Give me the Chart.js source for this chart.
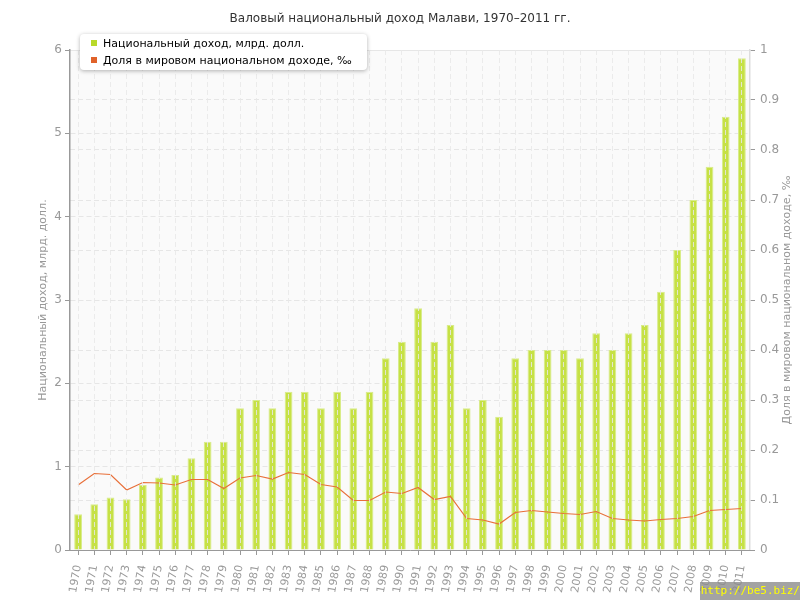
<!DOCTYPE html>
<html>
<head>
<meta charset="utf-8">
<script src="https://cdn.jsdelivr.net/npm/chart.js@4/dist/chart.umd.min.js"></script>
<style>
  body { margin: 0; background: #fff; }
  #wrap { position: relative; width: 800px; height: 600px; }
  #legendBox {
    position: absolute; left: 80px; top: 34px; width: 287px; height: 36px;
    background: #fff; border-radius: 4px; box-shadow: 0 1px 4px rgba(0,0,0,0.3);
    font: 11px "DejaVu Sans", sans-serif; color: #000;
  }
  .legendItem { position: absolute; left: 11px; white-space: nowrap; }
  .legendMark { display: inline-block; width: 6px; height: 6px; margin-right: 6px; vertical-align: 1px; }
  #watermark {
    position: absolute; left: 700px; top: 582px; width: 100px; height: 18px;
    background: rgba(140,140,140,0.8); color: #ffff00;
    font: 11px "DejaVu Sans Mono", monospace; line-height: 18px; text-align: right;
  }
</style>
</head>
<body>
<div id="wrap">
  <canvas id="incomeChart" width="800" height="600"></canvas>
  <div id="legendBox"></div>
  <div id="watermark">http://be5.biz/</div>
</div>
<script>
const years = ["1970","1971","1972","1973","1974","1975","1976","1977","1978","1979",
  "1980","1981","1982","1983","1984","1985","1986","1987","1988","1989",
  "1990","1991","1992","1993","1994","1995","1996","1997","1998","1999",
  "2000","2001","2002","2003","2004","2005","2006","2007","2008","2009",
  "2010","2011"];
// national income, billion USD
const incomeValues = [0.43, 0.55, 0.63, 0.61, 0.78, 0.87, 0.9, 1.1, 1.3, 1.3,
  1.7, 1.8, 1.7, 1.9, 1.9, 1.7, 1.9, 1.7, 1.9, 2.3,
  2.5, 2.9, 2.5, 2.7, 1.7, 1.8, 1.6, 2.3, 2.4, 2.4,
  2.4, 2.3, 2.6, 2.4, 2.6, 2.7, 3.1, 3.6, 4.2, 4.6,
  5.2, 5.9];
// share of world income, per mille
const shareValues = [0.13, 0.153, 0.151, 0.12, 0.135, 0.134, 0.13, 0.141, 0.141, 0.123,
  0.144, 0.149, 0.142, 0.155, 0.151, 0.131, 0.126, 0.099, 0.099, 0.116,
  0.113, 0.125, 0.101, 0.107, 0.063, 0.06, 0.052, 0.075, 0.079, 0.076,
  0.073, 0.071, 0.077, 0.063, 0.06, 0.058, 0.061, 0.063, 0.067, 0.079,
  0.081, 0.083];

const chartTitle = "Валовый национальный доход Малави, 1970–2011 гг.";
const incomeLabel = "Национальный доход, млрд. долл.";
const shareLabel = "Доля в мировом национальном доходе, ‰";
const incomeColor = "#c6e145";
const shareColor = "#e8703a";

Chart.defaults.font.family = "'DejaVu Sans', sans-serif";
Chart.defaults.font.size = 11;
Chart.defaults.color = "#999";

// HTML legend
const legendBox = document.getElementById("legendBox");
[[incomeLabel, "#b8d92a", 3], [shareLabel, "#e0622a", 20]].forEach(item => {
    const row = document.createElement("div");
    row.classList.add("legendItem");
    row.style.top = item[2] + "px";
    const mark = document.createElement("span");
    mark.classList.add("legendMark");
    mark.style.background = item[1];
    row.appendChild(mark);
    row.appendChild(document.createTextNode(item[0]));
    legendBox.appendChild(row);
});

// plot background + right axis title (reads bottom to top)
const plotDecor = {
    id: "plotDecor",
    beforeDraw(chart) {
        const {ctx, chartArea} = chart;
        ctx.save();
        ctx.fillStyle = "#fafafa";
        ctx.fillRect(chartArea.left, chartArea.top, chartArea.width, chartArea.height);
        ctx.strokeStyle = "#e6e6e6";
        ctx.beginPath();
        ctx.moveTo(chartArea.left, chartArea.top + 0.5);
        ctx.lineTo(chartArea.right, chartArea.top + 0.5);
        ctx.stroke();
        ctx.restore();
    },
    afterDraw(chart) {
        const {ctx, chartArea} = chart;
        ctx.save();
        ctx.translate(787, (chartArea.top + chartArea.bottom) / 2);
        ctx.rotate(-Math.PI / 2);
        ctx.font = "11px 'DejaVu Sans', sans-serif";
        ctx.fillStyle = "#999";
        ctx.textAlign = "center";
        ctx.textBaseline = "middle";
        ctx.fillText(shareLabel, 0, 0);
        ctx.restore();
    }
};

new Chart("incomeChart", {
    data: {
        labels: years,
        datasets: [{
            type: "line",
            label: shareLabel,
            data: shareValues,
            yAxisID: "y1",
            borderColor: shareColor,
            borderWidth: 1.2,
            pointRadius: 0,
            tension: 0,
            order: 0
        }, {
            type: "bar",
            label: incomeLabel,
            data: incomeValues,
            yAxisID: "y",
            backgroundColor: incomeColor,
            borderColor: "#d8ec8a",
            borderWidth: 1,
            barPercentage: 0.48,
            categoryPercentage: 1,
            order: 1
        }]
    },
    options: {
        responsive: false,
        animation: false,
        locale: "en-US",
        layout: { padding: 0 },
        plugins: {
            legend: { display: false },
            tooltip: { enabled: false },
            title: {
                display: true,
                text: chartTitle,
                color: "#333",
                font: { size: 12, weight: "normal" },
                padding: { top: 12, bottom: 23.6 }
            }
        },
        scales: {
            x: {
                offset: true,
                grid: {
                    offset: false,
                    color: "rgba(232,232,232,0.85)",
                    tickColor: "#999",
                    tickLength: 5,
                    z: 1
                },
                border: { color: "#999", width: 1, dash: [5, 3], z: 2 },
                ticks: { autoSkip: false, minRotation: 80, maxRotation: 80, padding: 9, color: "#999", font: { size: 11 } },
                afterFit: scale => { scale.height = 50; }
            },
            y: {
                position: "left",
                min: 0,
                max: 6,
                ticks: { stepSize: 1, padding: 3, color: "#999", font: { size: 12 } },
                grid: { color: "#e6e6e6", tickColor: "#999", tickLength: 5 },
                border: { color: "#999", width: 1.5, dash: [5, 3] },
                title: {
                    display: true,
                    text: incomeLabel,
                    color: "#999",
                    font: { size: 11 },
                    padding: { top: 37, bottom: 0 }
                },
                afterFit: scale => { scale.width = 70; }
            },
            y1: {
                position: "right",
                min: 0,
                max: 1,
                ticks: {
                    stepSize: 0.1, padding: 5, color: "#999", font: { size: 12 },
                    callback: value => String(Math.round(value * 10) / 10)
                },
                grid: { color: "#e6e6e6", tickColor: "#999", tickLength: 5 },
                border: { color: "#ddd", width: 1.5, dash: [5, 3] },
                afterFit: scale => { scale.width = 50; }
            }
        }
    },
    plugins: [plotDecor]
});
</script>
</body>
</html>
